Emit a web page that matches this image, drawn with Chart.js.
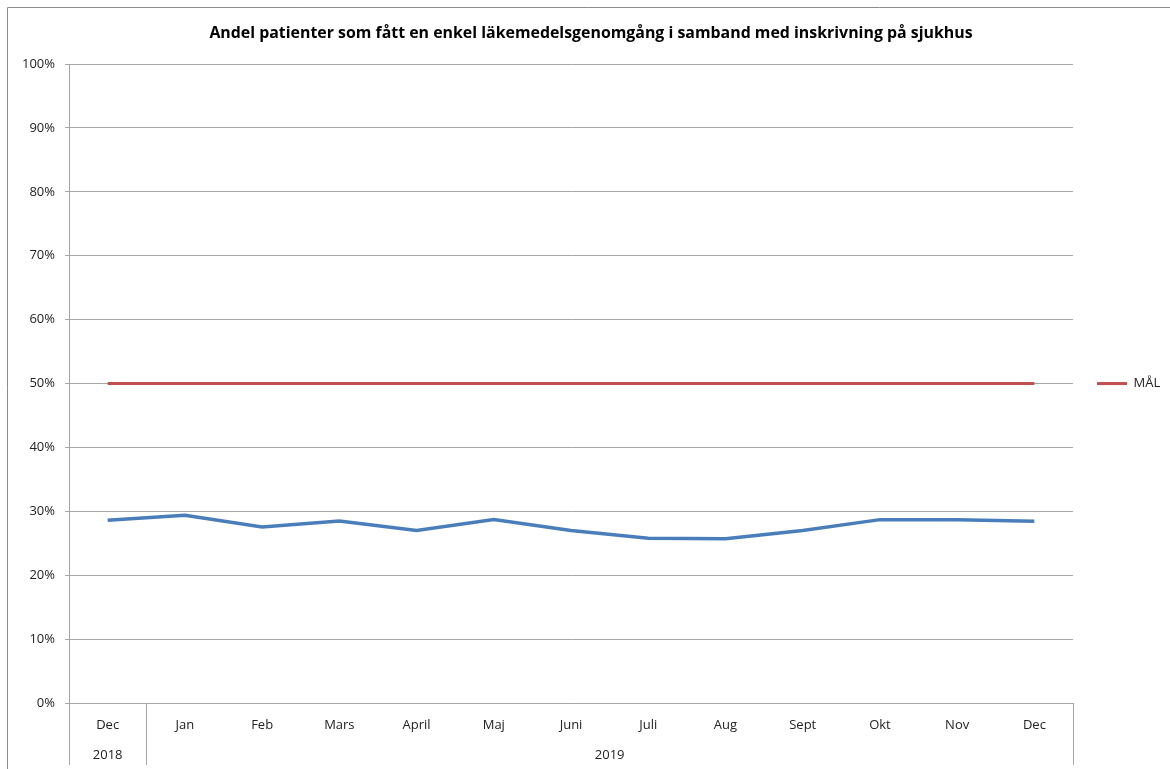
<!DOCTYPE html>
<html>
<head>
<meta charset="utf-8">
<script src="https://cdn.jsdelivr.net/npm/chart.js@4"></script>
<style>
  html, body { margin: 0; padding: 0; background: #fff; }
  #wrap { width: 1170px; height: 769px; }
</style>
</head>
<body>
<div id="wrap"><canvas id="grafik"></canvas></div>
<script>
const manader = ['Dec', 'Jan', 'Feb', 'Mars', 'April', 'Maj', 'Juni', 'Juli', 'Aug', 'Sept', 'Okt', 'Nov', 'Dec']
const ar = ['2018', '2019']
const arStart = [0, 1]
const andel = [28.6, 29.4, 27.55, 28.5, 27.0, 28.7, 27.0, 25.8, 25.7, 27.0, 28.7, 28.7, 28.45]
const mal = [50, 50, 50, 50, 50, 50, 50, 50, 50, 50, 50, 50, 50]

const typsnitt = "'Open Sans', 'Noto Sans', sans-serif"
const gra = '#a6a6a6'

// ram runt diagrammet + år-nivån under x-axeln
const arNiva = {
  id: 'arNiva',
  beforeDraw(chart) {
    const ctx = chart.ctx
    ctx.save()
    ctx.strokeStyle = '#8c8c8c'
    ctx.lineWidth = 1
    ctx.beginPath()
    ctx.moveTo(7.5, chart.height)
    ctx.lineTo(7.5, 7.5)
    ctx.lineTo(chart.width, 7.5)
    ctx.stroke()
    ctx.restore()
  },
  afterDraw(chart) {
    const ctx = chart.ctx
    const x = chart.scales.x
    const area = chart.chartArea
    const halv = (x.getPixelForValue(1) - x.getPixelForValue(0)) / 2
    const kanter = arStart.map(i => x.getPixelForValue(i) - halv)
    kanter.push(x.getPixelForValue(manader.length - 1) + halv)
    ctx.save()
    ctx.strokeStyle = gra
    ctx.lineWidth = 1
    kanter.forEach(k => {
      const px = Math.round(k) + 0.5
      ctx.beginPath()
      ctx.moveTo(px, area.bottom)
      ctx.lineTo(px, chart.height - 4)
      ctx.stroke()
    })
    ctx.fillStyle = '#222'
    ctx.font = '13px ' + typsnitt
    ctx.textAlign = 'center'
    ctx.textBaseline = 'middle'
    ar.forEach((a, i) => {
      ctx.fillText(a, (kanter[i] + kanter[i + 1]) / 2, area.bottom + 52)
    })
    ctx.restore()
  }
}

const ctx = document.getElementById('grafik').getContext('2d')
const chart = new Chart(ctx, {
  type: 'line',
  data: {
    labels: manader,
    datasets: [{
      label: 'Andel',
      data: andel,
      borderColor: '#4a7ebb',
      backgroundColor: '#4a7ebb',
      borderWidth: 3.5,
      pointRadius: 0,
      tension: 0
    }, {
      label: 'MÅL',
      data: mal,
      borderColor: '#c0504d',
      backgroundColor: '#c0504d',
      borderWidth: 3,
      pointRadius: 0,
      tension: 0
    }]
  },
  plugins: [arNiva],
  options: {
    responsive: true,
    maintainAspectRatio: false,
    animation: false,
    layout: { padding: { left: 12, right: 0, top: 24, bottom: 0 } },
    plugins: {
      title: {
        display: true,
        text: 'Andel patienter som fått en enkel läkemedelsgenomgång i samband med inskrivning på sjukhus',
        color: '#000',
        font: { family: typsnitt, size: 15.9, weight: 'bold' },
        padding: { top: 0, bottom: 21 }
      },
      legend: {
        display: true,
        position: 'right',
        fullSize: false,
        maxWidth: 97,
        labels: {
          color: '#222',
          font: { family: typsnitt, size: 13 },
          boxWidth: 30,
          boxHeight: 3,
          padding: 24,
          generateLabels(chart) {
            return Chart.defaults.plugins.legend.labels.generateLabels(chart)
              .filter(l => l.text === 'MÅL')
              .map(l => Object.assign(l, { lineWidth: 0 }))
          }
        }
      },
      tooltip: { enabled: false }
    },
    scales: {
      x: {
        offset: true,
        grid: { display: false },
        border: { display: true, color: gra },
        ticks: {
          color: '#222',
          font: { family: typsnitt, size: 13 },
          padding: 6,
          maxRotation: 0,
          autoSkip: false
        },
        afterFit(scale) { scale.height = 66 }
      },
      y: {
        min: 0,
        max: 100,
        grid: { color: gra, tickLength: 4 },
        border: { display: true, color: gra },
        ticks: {
          stepSize: 10,
          color: '#222',
          font: { family: typsnitt, size: 13 },
          padding: 10,
          callback: v => v + '%'
        }
      }
    }
  }
})
</script>
</body>
</html>
